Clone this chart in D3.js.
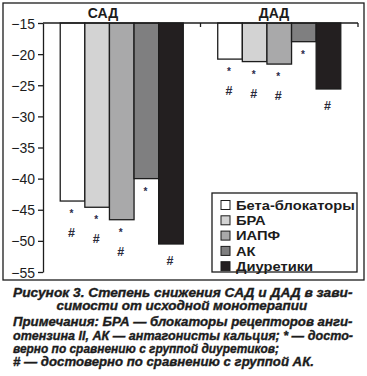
<!DOCTYPE html>
<html><head><meta charset="utf-8">
<script src="https://cdn.jsdelivr.net/npm/d3@7"></script>
<style>body{margin:0;background:#fff}svg{display:block}</style>
</head><body><svg id="c" width="367" height="376"></svg>
<script>
const groups = ["САД", "ДАД"];
const series = ["Бета-блокаторы", "БРА", "ИАПФ", "АК", "Диуретики"];
const sadValues = [-43.6, -44.6, -46.6, -40.0, -50.5];
const dadValues = [-20.8, -21.2, -21.6, -18.0, -25.6];
const sadStar = [true, true, true, true, false];
const sadHash = [true, true, true, false, true];
const dadStar = [true, true, true, true, false];
const dadHash = [true, true, true, false, true];
const yTicks = [-15, -20, -25, -30, -35, -40, -45, -50, -55];
const colors = ["#ffffff", "#d3d3d3", "#a9a9aa", "#7f7f80", "#231f20"];
const captionLines = [
  "Рисунок 3. Степень снижения САД и ДАД в зави-",
  "симости от исходной монотерапии",
  "Примечания: БРА — блокаторы рецепторов анги-",
  "отензина II, АК — антагонисты кальция; * — досто-",
  "верно по сравнению с группой диуретиков;",
  "# — достоверно по сравнению с группой АК."
];

const svg = d3.select("#c");
const ink = "#1c1c1c";
const font = "'Liberation Sans', Arial, sans-serif";

// frame
svg.append("rect").attr("x", 3).attr("y", 3).attr("width", 361).attr("height", 277)
  .attr("fill", "none").attr("stroke", ink).attr("stroke-width", 1.3);

const y = d3.scaleLinear().domain([-15, -55]).range([23, 272]);
const x0 = d3.scaleBand().domain(groups).range([43, 358]).padding(0);
const x1 = d3.scaleBand().domain(series).range([0, x0.bandwidth()]).paddingInner(0).paddingOuter(0.7);

const data = [
  {g: "САД", vals: sadValues, star: sadStar, hash: sadHash},
  {g: "ДАД", vals: dadValues, star: dadStar, hash: dadHash}
];

// bars
data.forEach(d => {
  const gx = x0(d.g);
  svg.append("g").selectAll("rect").data(d.vals).join("rect")
    .attr("x", (v, i) => gx + x1(series[i]))
    .attr("y", y(-15))
    .attr("width", x1.bandwidth())
    .attr("height", v => y(v) - y(-15))
    .attr("fill", (v, i) => colors[i])
    .attr("stroke", ink).attr("stroke-width", 1.3);
  d.vals.forEach((v, i) => {
    const cx = gx + x1(series[i]) + x1.bandwidth() / 2 - 1;
    const b = y(v);
    if (d.star[i]) {
      svg.append("text").attr("x", cx).attr("y", b + 16).attr("text-anchor", "middle")
        .attr("font-family", font).attr("font-weight", "bold").attr("font-size", 10).attr("fill", "#2a2a4a").text("*");
    }
    if (d.hash[i]) {
      svg.append("text").attr("x", cx).attr("y", b + (d.star[i] ? 36 : 21)).attr("text-anchor", "middle")
        .attr("font-family", font).attr("font-weight", "bold").attr("font-size", 12.5).attr("fill", "#2a2a3a").text("#");
    }
  });
});

// left axis
const yAxis = d3.axisLeft(y).tickValues(yTicks).tickSize(5).tickSizeOuter(0)
  .tickFormat(d => "\u2212" + Math.abs(d));
const ga = svg.append("g").attr("transform", "translate(43,0)").call(yAxis);
ga.select(".domain").attr("stroke", ink).attr("stroke-width", 1.3);
ga.selectAll(".tick line").attr("stroke", ink).attr("stroke-width", 1.3);
ga.selectAll(".tick text").attr("font-family", font).attr("font-size", 14)
  .attr("fill", ink).attr("x", -8).attr("dy", "0.36em");

// top horizontal axis line with group separator ticks
svg.append("line").attr("x1", 43).attr("x2", 358).attr("y1", y(-15)).attr("y2", y(-15))
  .attr("stroke", ink).attr("stroke-width", 1.3);
[x0("ДАД"), x0("ДАД") + x0.bandwidth()].forEach(tx => {
  svg.append("line").attr("x1", tx).attr("x2", tx).attr("y1", y(-15)).attr("y2", y(-15) + 4)
    .attr("stroke", ink).attr("stroke-width", 1.3);
});

// group titles
svg.append("text").attr("x", 103).attr("y", 18).attr("text-anchor", "middle")
  .attr("font-family", font).attr("font-weight", "bold").attr("font-size", 14).attr("fill", ink).text(groups[0]);
svg.append("text").attr("x", 274).attr("y", 18).attr("text-anchor", "middle")
  .attr("font-family", font).attr("font-weight", "bold").attr("font-size", 14).attr("fill", ink).text(groups[1]);

// helper: text scaled horizontally to a target width
function fitText(parent, str, x, yy, anchor, w, size, italic) {
  const t = parent.append("text").attr("x", 0).attr("y", 0)
    .attr("font-family", font).attr("font-weight", "bold")
    .attr("font-style", italic ? "italic" : "normal")
    .attr("font-size", size).attr("fill", ink).text(str);
  const nat = t.node().getComputedTextLength();
  const s = w / nat;
  const left = anchor === "middle" ? x - w / 2 : x;
  t.attr("transform", `translate(${left},${yy}) scale(${s},1)`);
  return t;
}

// legend
const lg = svg.append("g");
lg.append("rect").attr("x", 212).attr("y", 193).attr("width", 145).attr("height", 79)
  .attr("fill", "#fff").attr("stroke", ink).attr("stroke-width", 1.3);
series.forEach((s, i) => {
  const cy = 205 + i * 15.3;
  lg.append("rect").attr("x", 221).attr("y", cy - 4.5).attr("width", 9).attr("height", 9)
    .attr("fill", colors[i]).attr("stroke", ink).attr("stroke-width", 1);
  lg.append("text").attr("x", 236).attr("y", cy).attr("dy", "0.36em")
    .attr("font-family", font).attr("font-weight", "bold").attr("font-size", 13.5)
    .attr("fill", ink).attr("transform", `translate(236,0) scale(1.09,1) translate(-236,0)`).text(s);
});

// caption
const capSpecs = [
  {x: 183, a: "middle", w: 340, y: 297},
  {x: 182, a: "middle", w: 251, y: 310},
  {x: 13, a: "start", w: 340, y: 326},
  {x: 13, a: "start", w: 340, y: 339.5},
  {x: 13, a: "start", w: 266, y: 352.5},
  {x: 13, a: "start", w: 301, y: 366}
];
captionLines.forEach((t, i) => {
  const c = capSpecs[i];
  fitText(svg, t, c.x, c.y, c.a, c.w, 12.3, true).attr("stroke", ink).attr("stroke-width", 0.35);
});
</script></body></html>
